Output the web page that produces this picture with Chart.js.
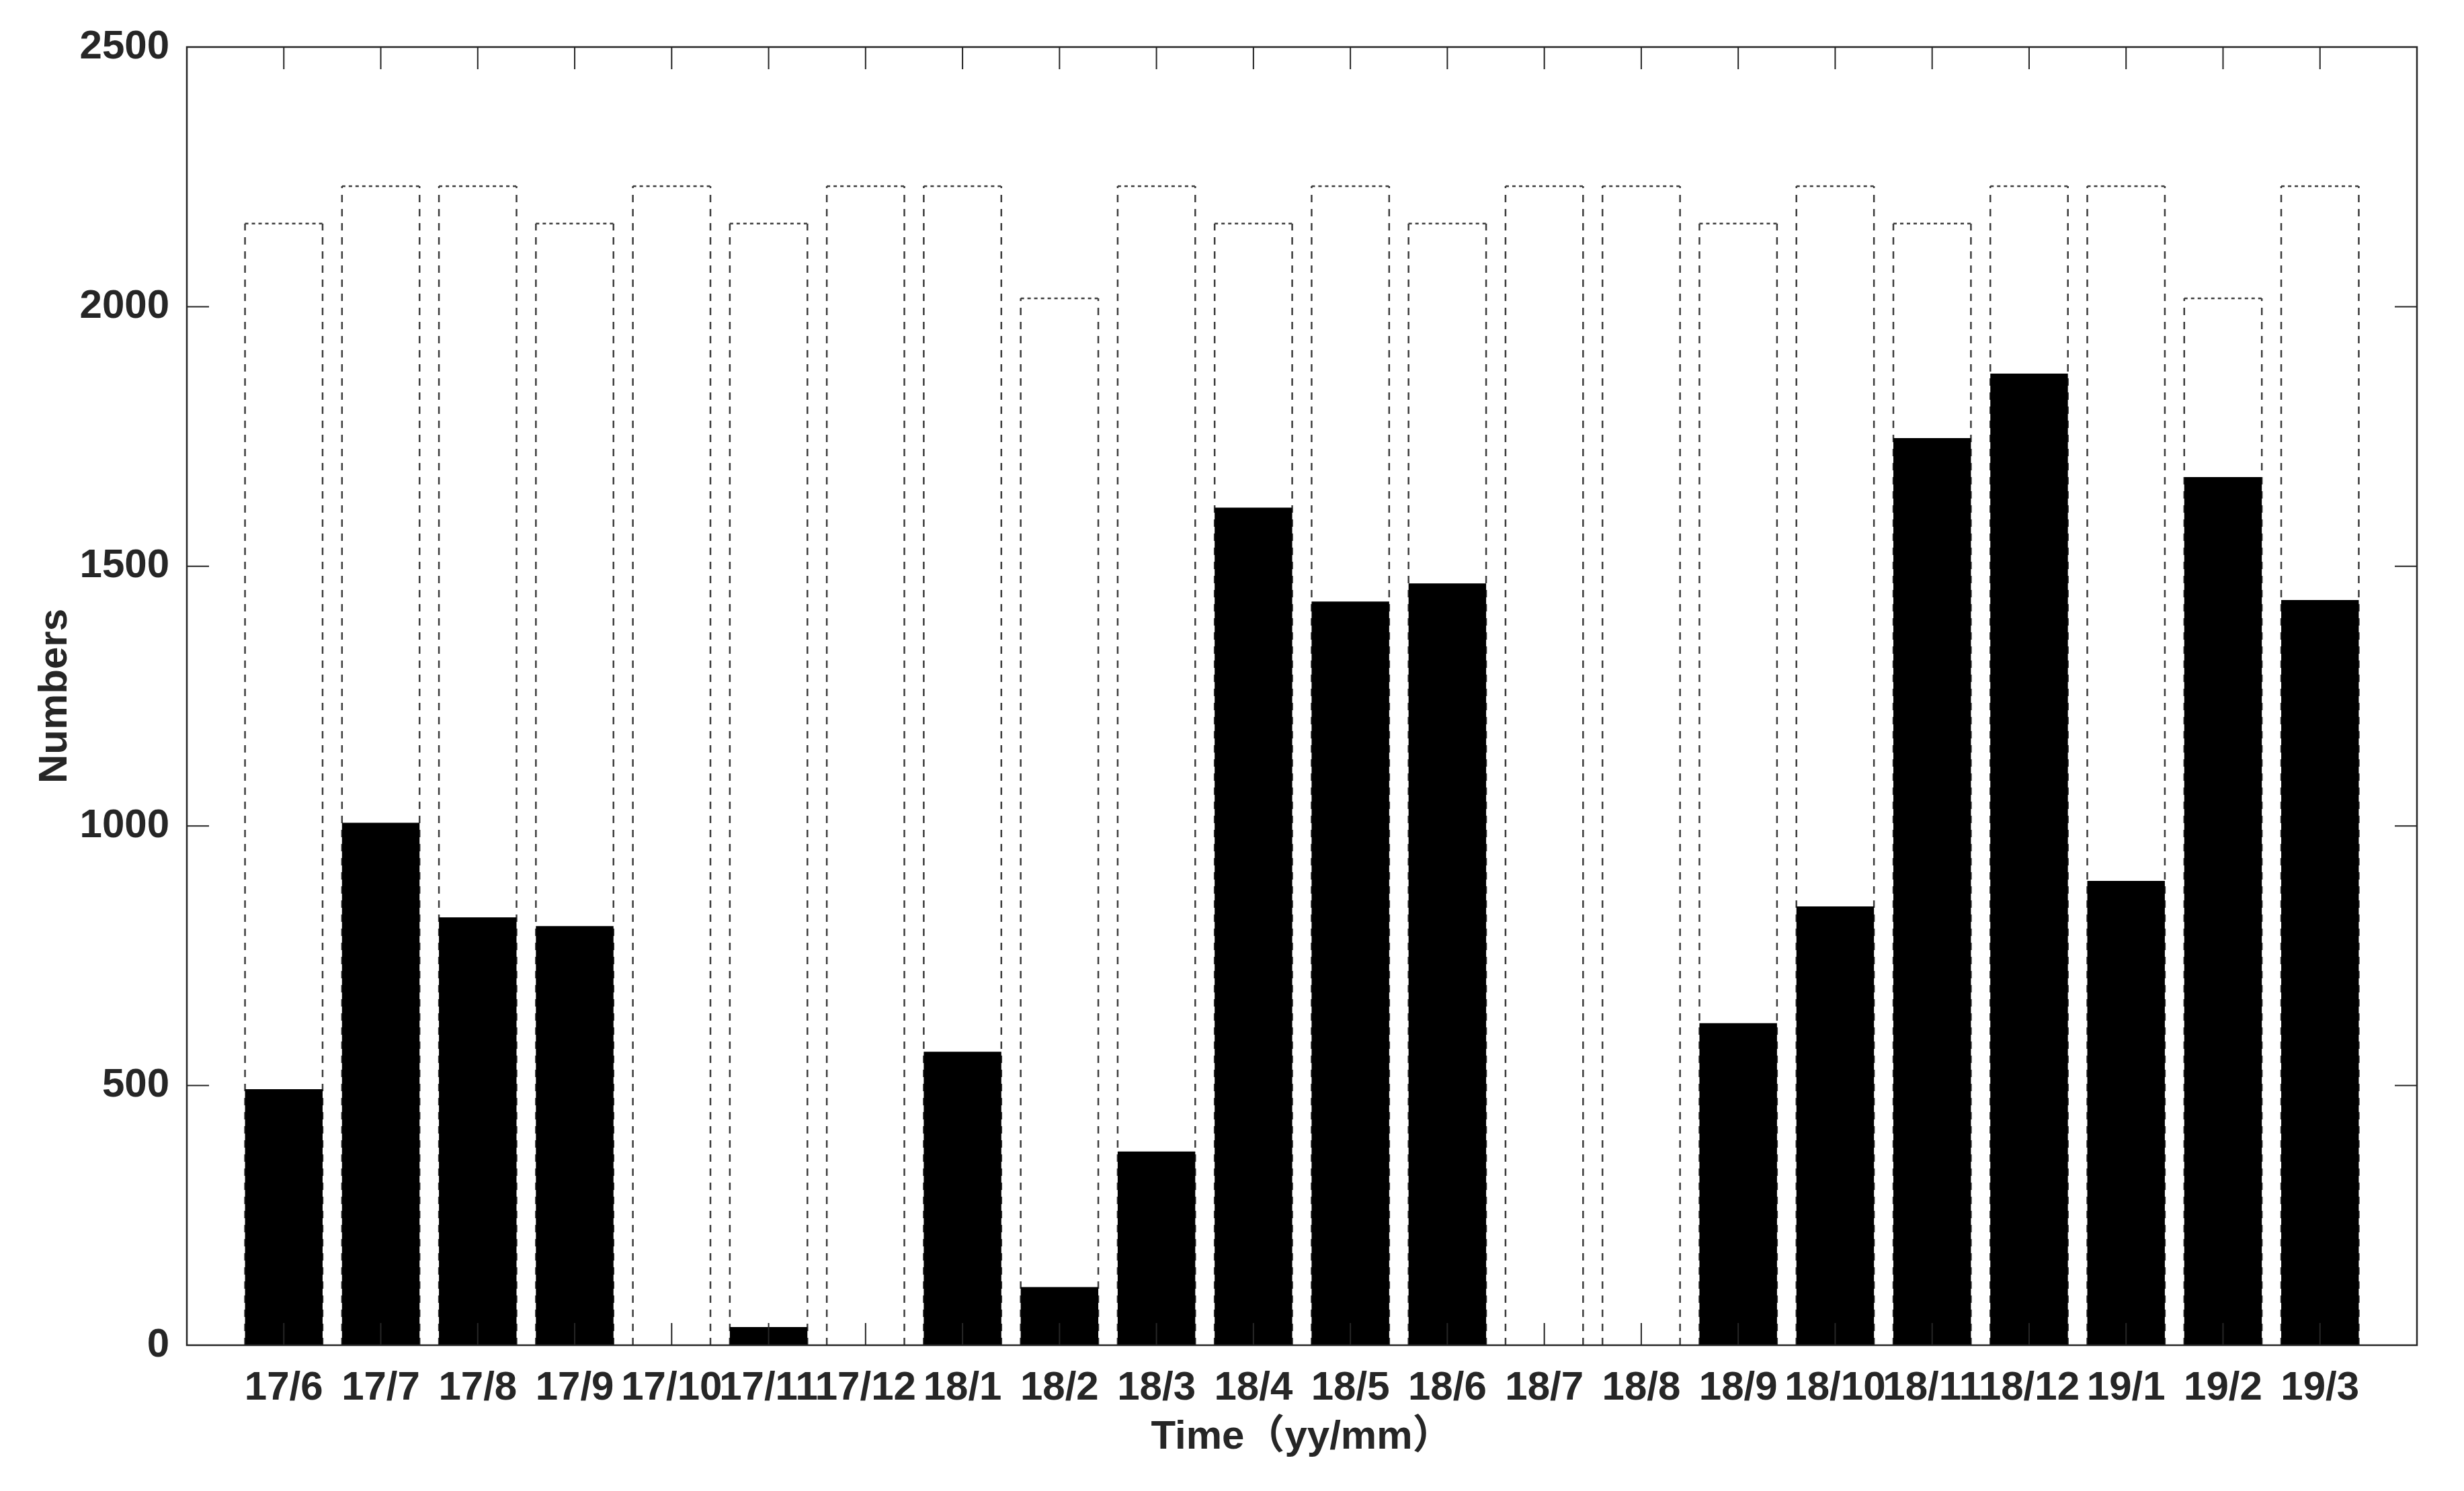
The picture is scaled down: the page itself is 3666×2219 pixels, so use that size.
<!DOCTYPE html>
<html>
<head>
<meta charset="utf-8">
<script src="https://cdn.jsdelivr.net/npm/chart.js@4.4.1/dist/chart.umd.min.js"></script>
<style>
html,body{margin:0;padding:0;background:#fff;}
canvas{display:block;}
</style>
</head>
<body>
<canvas id="c" width="3666" height="2219" style="width:3666px;height:2219px"></canvas>
<script>
const categories = ['17/6','17/7','17/8','17/9','17/10','17/11','17/12','18/1','18/2','18/3','18/4','18/5','18/6','18/7','18/8','18/9','18/10','18/11','18/12','19/1','19/2','19/3'];
const totalValues = [2160,2232,2232,2160,2232,2160,2232,2232,2016,2232,2160,2232,2160,2232,2232,2160,2232,2160,2232,2232,2016,2232];
const validValues = [493,1006,824,807,0,35,0,565,112,373,1613,1432,1467,0,0,620,845,1747,1871,894,1672,1435];
const yTickValues = [0,500,1000,1500,2000,2500];
const xTitle = 'Time（yy/mm）';
const yTitle = 'Numbers';

const FONT = "'Liberation Sans', Arial, Helvetica, 'Noto Sans CJK SC', sans-serif";
const TEXT = '#262626';

// one empty slot on each side, as in the original axis (0 .. n+1)
const labels = [''].concat(categories, ['']);
const pad = arr => [null].concat(arr, [null]);

const boxPlugin = {
  id: 'boxPlugin',
  beforeDatasetsDraw(chart) {
    const ctx = chart.ctx;
    const meta = chart.getDatasetMeta(0);
    const raw = chart.data.datasets[0].data;
    ctx.save();
    ctx.strokeStyle = '#3c3c3c';
    ctx.lineWidth = 2.5;
    meta.data.forEach((el, i) => {
      if (raw[i] == null) return;
      const l = el.x - el.width / 2, r = el.x + el.width / 2;
      const t = el.y, b = el.base;
      ctx.setLineDash([5, 5]);
      ctx.beginPath(); ctx.moveTo(l, t); ctx.lineTo(r, t); ctx.stroke();
      ctx.setLineDash([11, 10]);
      ctx.beginPath(); ctx.moveTo(l, b); ctx.lineTo(l, t); ctx.stroke();
      ctx.beginPath(); ctx.moveTo(r, b); ctx.lineTo(r, t); ctx.stroke();
    });
    ctx.restore();
  },
  afterDatasetsDraw(chart) {
    const ctx = chart.ctx;
    const a = chart.chartArea;
    const xs = chart.scales.x, ys = chart.scales.y;
    const len = 33;
    ctx.save();
    ctx.setLineDash([]);
    ctx.strokeStyle = TEXT;
    ctx.lineWidth = 2;
    for (let i = 1; i <= categories.length; i++) {
      const px = xs.getPixelForValue(i);
      ctx.beginPath();
      ctx.moveTo(px, a.bottom); ctx.lineTo(px, a.bottom - len);
      ctx.moveTo(px, a.top); ctx.lineTo(px, a.top + len);
      ctx.stroke();
    }
    yTickValues.forEach(v => {
      const py = ys.getPixelForValue(v);
      ctx.beginPath();
      ctx.moveTo(a.left, py); ctx.lineTo(a.left + len, py);
      ctx.moveTo(a.right, py); ctx.lineTo(a.right - len, py);
      ctx.stroke();
    });
    ctx.lineWidth = 2.5;
    ctx.strokeRect(a.left, a.top, a.right - a.left, a.bottom - a.top);
    ctx.restore();
  }
};

new Chart(document.getElementById('c'), {
  type: 'bar',
  data: {
    labels: labels,
    datasets: [
      {
        label: 'Total',
        data: pad(totalValues),
        backgroundColor: 'rgba(0,0,0,0)',
        borderWidth: 0,
        grouped: false,
        barPercentage: 0.8,
        categoryPercentage: 1.0,
        order: 2
      },
      {
        label: 'Valid',
        data: pad(validValues),
        backgroundColor: '#000000',
        borderWidth: 0,
        grouped: false,
        barPercentage: 0.8,
        categoryPercentage: 1.0,
        order: 1
      }
    ]
  },
  options: {
    responsive: false,
    animation: false,
    devicePixelRatio: 1,
    layout: { padding: { top: 70, right: 70, left: 0, bottom: 0 } },
    plugins: { legend: { display: false }, tooltip: { enabled: false } },
    scales: {
      x: {
        type: 'category',
        offset: false,
        grid: { display: false, drawTicks: false },
        border: { display: false },
        ticks: {
          autoSkip: false, maxRotation: 0, minRotation: 0, padding: 28,
          color: TEXT, font: { family: FONT, size: 60, weight: 'bold' }
        },
        title: {
          display: true, text: xTitle, color: TEXT,
          font: { family: FONT, size: 60, weight: 'bold' },
          padding: { top: 0, bottom: 44 }
        },
        afterFit(scale) { scale.height = 217; }
      },
      y: {
        min: 0, max: 2500,
        afterBuildTicks(scale) { scale.ticks = yTickValues.map(v => ({ value: v })); },
        grid: { display: false, drawTicks: false },
        border: { display: false },
        ticks: {
          padding: 26, color: TEXT,
          font: { family: FONT, size: 60, weight: 'bold' },
          callback: v => String(v)
        },
        title: {
          display: true, text: yTitle, color: TEXT,
          font: { family: FONT, size: 60, weight: 'bold' },
          padding: { top: 46, bottom: 0 }
        },
        afterFit(scale) { scale.width = 278; }
      }
    }
  },
  plugins: [boxPlugin]
});
</script>
</body>
</html>
